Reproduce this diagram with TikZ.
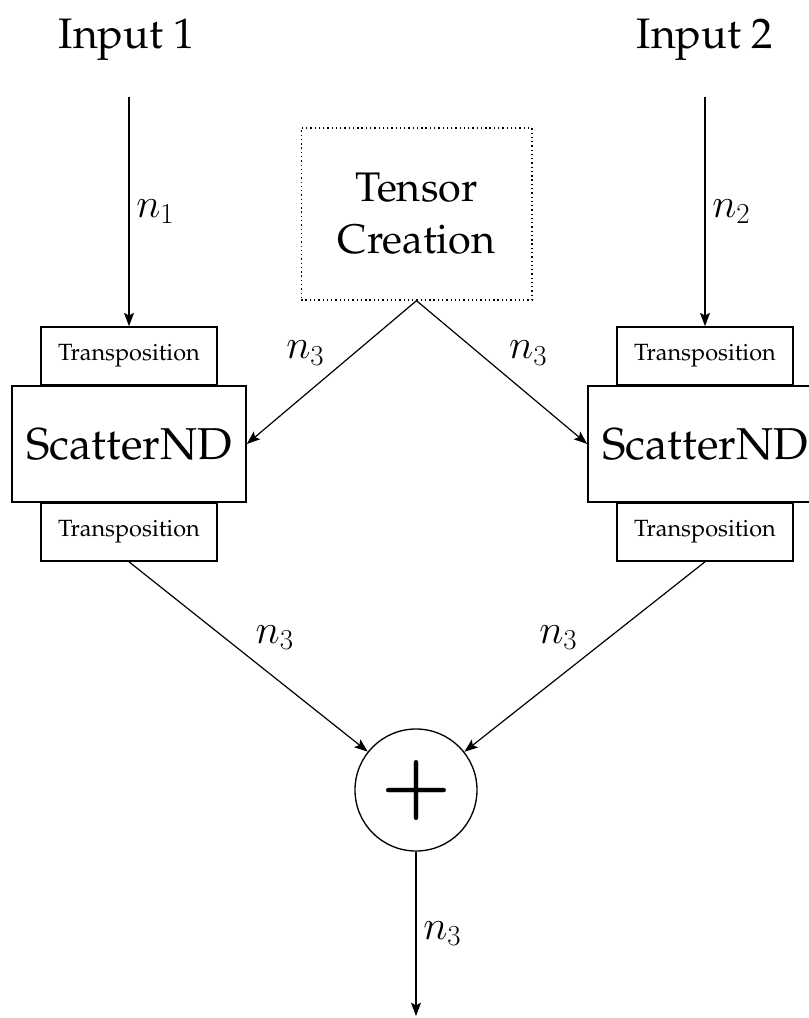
\RequirePackage{fix-cm}
\documentclass[tikz,border=0pt]{standalone}
\usepackage[T1]{fontenc}
\renewcommand{\rmdefault}{ppl}
\usetikzlibrary{arrows.meta}
\begin{document}
\begin{tikzpicture}[x=0.75pt,y=-0.75pt,
  arr/.style={line width=0.9pt,-{Stealth[length=10pt,width=7.5pt,inset=2pt]}},
  bigtxt/.style={font=\fontsize{32}{38}\selectfont},
  lbl/.style={font=\fontsize{31}{36}\selectfont,inner sep=5pt},
  tbox/.style={draw,line width=1.2pt,minimum width=132pt,minimum height=43.5pt,inner sep=0pt,font=\fontsize{17.6}{20}\selectfont},
  sbox/.style={draw,line width=1.2pt,minimum width=175.5pt,minimum height=87pt,inner sep=0pt,font=\fontsize{33.5}{40}\selectfont},
  tcbox/.style={draw,line width=1pt,dash pattern=on 1pt off 2.2pt,minimum width=173pt,minimum height=129pt,inner sep=0pt,align=center,font=\fontsize{31}{39}\selectfont},
  sumc/.style={draw,circle,line width=1pt,minimum size=91.5pt,inner sep=0pt}]
\clip (0,0) rectangle (809,1018);
\useasboundingbox (0,0) rectangle (809,1018);
\node[bigtxt,anchor=base] (in1) at (127,48) {Input 1};
\node[bigtxt,anchor=base] (in2) at (705,48) {Input 2};
\coordinate (a1) at (129,97);
\coordinate (a2) at (705,97);
\node[tbox] (t1) at (129,356) {Transposition};
\node[sbox] (s1) at (129,444) {ScatterND};
\node[tbox] (b1) at (129,532) {Transposition};
\node[tbox] (t2) at (705,356) {Transposition};
\node[sbox] (s2) at (705,444) {ScatterND};
\node[tbox] (b2) at (705,532) {Transposition};
\node[tcbox] (tc) at (416.5,214) {Tensor\\Creation};
\node[sumc,font=\fontsize{60}{64}\selectfont\boldmath] (sum) at (416,790) {$+$};
\coordinate (out) at (416,1016);
\draw[arr] (a1) -- node[lbl,right] {$n_1$} (t1.north);
\draw[arr] (a2) -- node[lbl,right] {$n_2$} (t2.north);
\draw[arr] (tc.south) -- node[lbl,above left] {$n_3$} (s1.east);
\draw[arr] (tc.south) -- node[lbl,above right] {$n_3$} (s2.west);
\draw[arr] (b1.south) -- node[lbl,above right] {$n_3$} (sum);
\draw[arr] (b2.south) -- node[lbl,above left] {$n_3$} (sum);
\draw[arr] (sum.south) -- node[lbl,right] {$n_3$} (out);
\end{tikzpicture}
\end{document}
